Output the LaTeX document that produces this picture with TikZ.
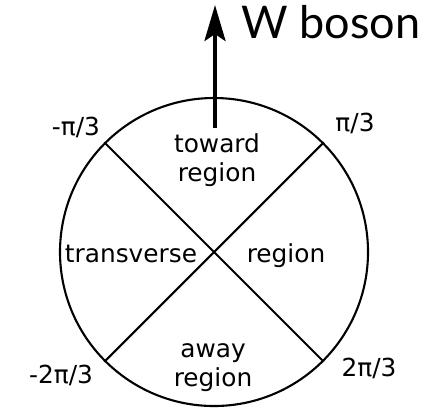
\documentclass[tikz,border=0pt]{standalone}
\usepackage{fontspec}
\setmainfont{DejaVu Sans}
\newfontfamily\wfont{Lato}
\usetikzlibrary{arrows.meta}
\begin{document}
\begin{tikzpicture}[x=0.5pt,y=-0.5pt,
  lab/.style={font=\fontsize{12.4}{14.6}\selectfont, inner sep=0pt, align=center},
  ring/.style={draw, circle, line width=1.05pt, minimum size=154pt, inner sep=0pt},
  divider/.style={line width=1.05pt},
  bigarrow/.style={line width=2pt, -{Stealth[length=18pt,width=10.5pt,inset=3.5pt]}}]
\useasboundingbox (0,0) rectangle (426,408);
\node[ring] (c) at (214,252) {};
\draw[divider] (c.135) -- (c.-45);
\draw[divider] (c.45) -- (c.-135);
\node[lab] (mpi3) at (76,127) {-π/3};
\node[lab] (pi3) at (355,123) {π/3};
\node[lab] (toward) at (217,160) {toward\\region};
\node[lab] (trans) at (131,254) {transverse};
\node[lab] (reg) at (286,256) {region};
\node[lab] (away) at (213,368) {away\\region};
\node[lab] (m2pi3) at (61,375) {-2π/3};
\node[lab] (p2pi3) at (369,368) {2π/3};
\coordinate (abot) at (215,128);
\coordinate (atop) at (215,5);
\draw[bigarrow] (abot) -- (atop);
\node[font=\wfont\fontsize{22.5}{27}\selectfont, anchor=base west, inner sep=0pt] (w) at (241,38) {W boson};
\end{tikzpicture}
\end{document}
